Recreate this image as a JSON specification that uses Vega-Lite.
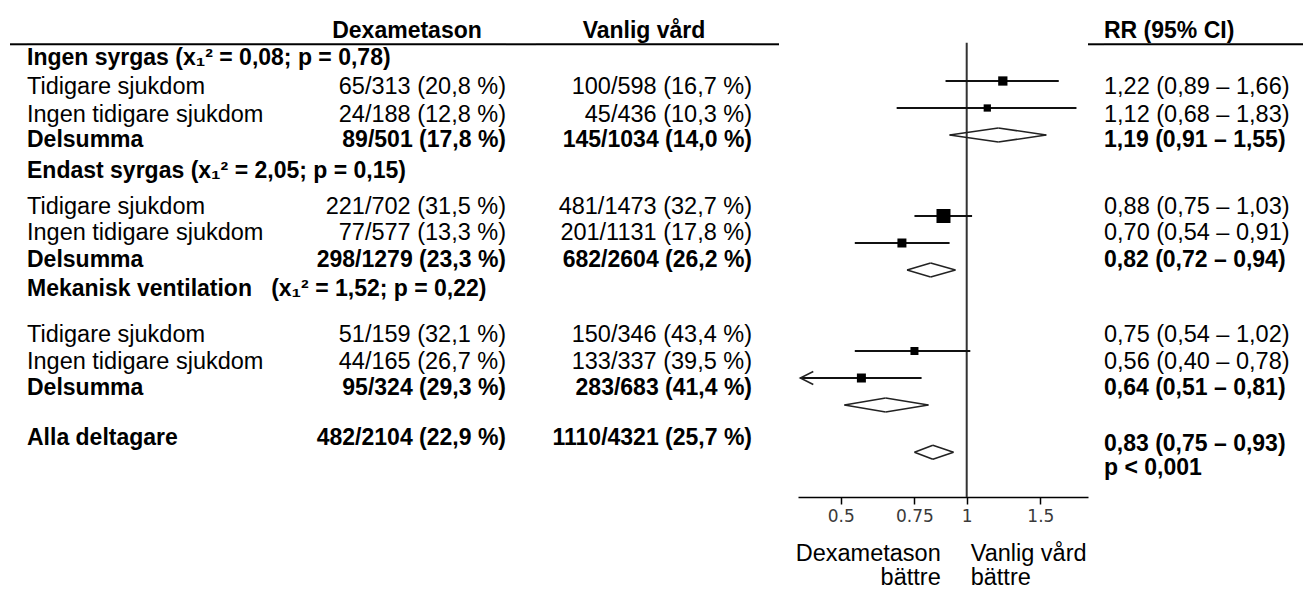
{
  "$schema": "https://vega.github.io/schema/vega-lite/v6.json",
  "background": "white",
  "padding": {"left": 9, "top": 0, "right": 0, "bottom": 0},
  "spacing": 0,
  "bounds": "flush",
  "align": "none",
  "config": {
    "view": {"stroke": null},
    "axisX": {"grid": false, "domainColor": "#000", "domainWidth": 1.5, "tickColor": "#000", "tickWidth": 1.5, "tickSize": 7,
      "labelFont": "DejaVu Sans", "labelFontSize": 17, "labelColor": "#3a3a3a", "labelPadding": 4, "labelFlush": false, "labelOverlap": false}
  },
  "datasets": {
    "table": [
      {"line": 2.16, "label": "Ingen syrgas (x₁² = 0,08; p = 0,78)", "type": "group"},
      {"line": 3.24, "label": "Tidigare sjukdom", "dex": "65/313 (20,8 %)", "van": "100/598 (16,7 %)", "type": "sub"},
      {"line": 4.26, "label": "Ingen tidigare sjukdom", "dex": "24/188 (12,8 %)", "van": "45/436 (10,3 %)", "type": "sub"},
      {"line": 5.2, "label": "Delsumma", "dex": "89/501 (17,8 %)", "van": "145/1034 (14,0 %)", "type": "subtotal"},
      {"line": 6.32, "label": "Endast syrgas (x₁² = 2,05; p = 0,15)", "type": "group"},
      {"line": 7.67, "label": "Tidigare sjukdom", "dex": "221/702 (31,5 %)", "van": "481/1473 (32,7 %)", "type": "sub"},
      {"line": 8.63, "label": "Ingen tidigare sjukdom", "dex": "77/577 (13,3 %)", "van": "201/1131 (17,8 %)", "type": "sub"},
      {"line": 9.62, "label": "Delsumma", "dex": "298/1279 (23,3 %)", "van": "682/2604 (26,2 %)", "type": "subtotal"},
      {"line": 10.7, "label": "Mekanisk ventilation\u00a0\u00a0\u00a0(x₁² = 1,52; p = 0,22)", "type": "group"},
      {"line": 12.42, "label": "Tidigare sjukdom", "dex": "51/159 (32,1 %)", "van": "150/346 (43,4 %)", "type": "sub"},
      {"line": 13.41, "label": "Ingen tidigare sjukdom", "dex": "44/165 (26,7 %)", "van": "133/337 (39,5 %)", "type": "sub"},
      {"line": 14.38, "label": "Delsumma", "dex": "95/324 (29,3 %)", "van": "283/683 (41,4 %)", "type": "subtotal"},
      {"line": 16.23, "label": "Alla deltagare", "dex": "482/2104 (22,9 %)", "van": "1110/4321 (25,7 %)", "type": "total"}
    ],
    "rr": [
      {"line": 3.24, "rr": "1,22 (0,89 – 1,66)", "type": "sub"},
      {"line": 4.26, "rr": "1,12 (0,68 – 1,83)", "type": "sub"},
      {"line": 5.2, "rr": "1,19 (0,91 – 1,55)", "type": "subtotal"},
      {"line": 7.67, "rr": "0,88 (0,75 – 1,03)", "type": "sub"},
      {"line": 8.63, "rr": "0,70 (0,54 – 0,91)", "type": "sub"},
      {"line": 9.62, "rr": "0,82 (0,72 – 0,94)", "type": "subtotal"},
      {"line": 12.42, "rr": "0,75 (0,54 – 1,02)", "type": "sub"},
      {"line": 13.41, "rr": "0,56 (0,40 – 0,78)", "type": "sub"},
      {"line": 14.38, "rr": "0,64 (0,51 – 0,81)", "type": "subtotal"},
      {"line": 16.45, "rr": "0,83 (0,75 – 0,93)", "type": "total"},
      {"line": 17.34, "rr": "p < 0,001", "type": "total"}
    ],
    "forest": [
      {"line": 3, "est": 1.22, "lo": 0.89, "hi": 1.66, "kind": "subgroup", "weight": 8.6},
      {"line": 4, "est": 1.12, "lo": 0.68, "hi": 1.83, "kind": "subgroup", "weight": 5.3},
      {"line": 5, "est": 1.19, "lo": 0.91, "hi": 1.55, "kind": "pooled"},
      {"line": 8, "est": 0.88, "lo": 0.75, "hi": 1.03, "kind": "subgroup", "weight": 19.6},
      {"line": 9, "est": 0.70, "lo": 0.54, "hi": 0.91, "kind": "subgroup", "weight": 8.1},
      {"line": 10, "est": 0.82, "lo": 0.72, "hi": 0.94, "kind": "pooled"},
      {"line": 13, "est": 0.75, "lo": 0.54, "hi": 1.02, "kind": "subgroup", "weight": 6.4},
      {"line": 14, "est": 0.56, "lo": 0.40, "hi": 0.78, "kind": "subgroup", "weight": 8.1},
      {"line": 15, "est": 0.64, "lo": 0.51, "hi": 0.81, "kind": "pooled"},
      {"line": 16.75, "est": 0.83, "lo": 0.75, "hi": 0.93, "kind": "pooled"}
    ],
    "footer": [
      {"line": 20.52, "left": "Dexametason", "right": "Vanlig vård"},
      {"line": 21.42, "left": "bättre", "right": "bättre"}
    ]
  },
  "hconcat": [
    {
      "width": 17, "height": 590,
      "data": {"values": [{}]},
      "mark": {"type": "rule", "color": "#000", "strokeWidth": 2},
      "encoding": {"y": {"datum": 1.64, "type": "quantitative", "scale": {"domain": [0, 21.85], "reverse": true, "nice": false, "zero": false}, "axis": null}}
    },
    {
      "width": 281, "height": 590,
      "layer": [
        {
          "data": {"values": [{}]},
          "mark": {"type": "rule", "color": "#000", "strokeWidth": 2},
          "encoding": {"y": {"datum": 1.64, "type": "quantitative", "scale": {"domain": [0, 21.85], "reverse": true, "nice": false, "zero": false}, "axis": null}}
        },
        {
          "data": {"name": "table"},
          "transform": [{"filter": "datum.type === 'sub'"}],
          "mark": {"type": "text", "align": "left", "baseline": "middle", "font": "Liberation Sans", "fontSize": 23.5, "color": "#000"},
          "encoding": {
            "x": {"value": 0},
            "y": {"field": "line", "type": "quantitative", "scale": {"domain": [0, 21.85], "reverse": true, "nice": false, "zero": false}, "axis": null},
            "text": {"field": "label"}
          }
        },
        {
          "data": {"name": "table"},
          "transform": [{"filter": "datum.type !== 'sub'"}],
          "mark": {"type": "text", "align": "left", "baseline": "middle", "font": "Liberation Sans", "fontSize": 23, "fontWeight": "bold", "color": "#000"},
          "encoding": {
            "x": {"value": 0},
            "y": {"field": "line", "type": "quantitative", "scale": {"domain": [0, 21.85], "reverse": true, "nice": false, "zero": false}, "axis": null},
            "text": {"field": "label"}
          }
        }
      ]
    },
    {
      "width": 198, "height": 590,
      "layer": [
        {
          "data": {"values": [{}]},
          "mark": {"type": "rule", "color": "#000", "strokeWidth": 2},
          "encoding": {"y": {"datum": 1.64, "type": "quantitative", "scale": {"domain": [0, 21.85], "reverse": true, "nice": false, "zero": false}, "axis": null}}
        },
        {
          "data": {"values": [{}]},
          "mark": {"type": "text", "align": "center", "baseline": "middle", "font": "Liberation Sans", "fontSize": 23, "fontWeight": "bold", "color": "#000"},
          "encoding": {
            "y": {"datum": 1.16, "type": "quantitative", "scale": {"domain": [0, 21.85], "reverse": true, "nice": false, "zero": false}, "axis": null},
            "text": {"value": "Dexametason"}
          }
        },
        {
          "data": {"name": "table"},
          "transform": [{"filter": "datum.type === 'sub'"}],
          "mark": {"type": "text", "align": "right", "baseline": "middle", "font": "Liberation Sans", "fontSize": 23.5, "color": "#000"},
          "encoding": {
            "x": {"value": "width"},
            "y": {"field": "line", "type": "quantitative", "scale": {"domain": [0, 21.85], "reverse": true, "nice": false, "zero": false}, "axis": null},
            "text": {"field": "dex"}
          }
        },
        {
          "data": {"name": "table"},
          "transform": [{"filter": "datum.type === 'subtotal' || datum.type === 'total'"}],
          "mark": {"type": "text", "align": "right", "baseline": "middle", "font": "Liberation Sans", "fontSize": 23, "fontWeight": "bold", "color": "#000"},
          "encoding": {
            "x": {"value": "width"},
            "y": {"field": "line", "type": "quantitative", "scale": {"domain": [0, 21.85], "reverse": true, "nice": false, "zero": false}, "axis": null},
            "text": {"field": "dex"}
          }
        }
      ]
    },
    {
      "width": 30, "height": 590,
      "data": {"values": [{}]},
      "mark": {"type": "rule", "color": "#000", "strokeWidth": 2},
      "encoding": {"y": {"datum": 1.64, "type": "quantitative", "scale": {"domain": [0, 21.85], "reverse": true, "nice": false, "zero": false}, "axis": null}}
    },
    {
      "width": 216, "height": 590,
      "layer": [
        {
          "data": {"values": [{}]},
          "mark": {"type": "rule", "color": "#000", "strokeWidth": 2},
          "encoding": {"y": {"datum": 1.64, "type": "quantitative", "scale": {"domain": [0, 21.85], "reverse": true, "nice": false, "zero": false}, "axis": null}}
        },
        {
          "data": {"values": [{}]},
          "mark": {"type": "text", "align": "center", "baseline": "middle", "font": "Liberation Sans", "fontSize": 23, "fontWeight": "bold", "color": "#000"},
          "encoding": {
            "y": {"datum": 1.16, "type": "quantitative", "scale": {"domain": [0, 21.85], "reverse": true, "nice": false, "zero": false}, "axis": null},
            "text": {"value": "Vanlig vård"}
          }
        },
        {
          "data": {"name": "table"},
          "transform": [{"filter": "datum.type === 'sub'"}],
          "mark": {"type": "text", "align": "right", "baseline": "middle", "font": "Liberation Sans", "fontSize": 23.5, "color": "#000"},
          "encoding": {
            "x": {"value": "width"},
            "y": {"field": "line", "type": "quantitative", "scale": {"domain": [0, 21.85], "reverse": true, "nice": false, "zero": false}, "axis": null},
            "text": {"field": "van"}
          }
        },
        {
          "data": {"name": "table"},
          "transform": [{"filter": "datum.type === 'subtotal' || datum.type === 'total'"}],
          "mark": {"type": "text", "align": "right", "baseline": "middle", "font": "Liberation Sans", "fontSize": 23, "fontWeight": "bold", "color": "#000"},
          "encoding": {
            "x": {"value": "width"},
            "y": {"field": "line", "type": "quantitative", "scale": {"domain": [0, 21.85], "reverse": true, "nice": false, "zero": false}, "axis": null},
            "text": {"field": "van"}
          }
        }
      ]
    },
    {
      "width": 27, "height": 590,
      "data": {"values": [{}]},
      "mark": {"type": "rule", "color": "#000", "strokeWidth": 2},
      "encoding": {"y": {"datum": 1.64, "type": "quantitative", "scale": {"domain": [0, 21.85], "reverse": true, "nice": false, "zero": false}, "axis": null}}
    },
    {
      "width": 19, "height": 590,
      "data": {"values": [{}]},
      "mark": {"type": "text"},
      "encoding": {"text": {"value": ""}}
    },
    {
      "width": 290, "height": 497,
      "layer": [
        {
          "data": {"values": [{}]},
          "mark": {"type": "rule", "color": "#333", "strokeWidth": 2},
          "encoding": {
            "x": {"datum": 1, "type": "quantitative", "scale": {"type": "log", "domain": [0.395, 1.95], "nice": false, "zero": false}, "axis": {"values": [0.5, 0.75, 1, 1.5], "format": "~g", "title": null, "labelFont": "DejaVu Sans", "labelFontSize": 17, "labelColor": "#3a3a3a", "tickSize": 7, "tickColor": "#000", "tickWidth": 1.5, "domainColor": "#000", "domainWidth": 1.5, "labelPadding": 4}},
            "y": {"datum": 1.58, "type": "quantitative", "scale": {"domain": [0, 18.407], "reverse": true, "nice": false, "zero": false}, "axis": null},
            "y2": {"datum": 18.407}
          }
        },
        {
          "data": {"name": "forest"},
          "transform": [{"filter": "datum.kind === 'subgroup'"}],
          "mark": {"type": "rule", "color": "#111", "strokeWidth": 2},
          "encoding": {
            "x": {"field": "lo", "type": "quantitative", "scale": {"type": "log", "domain": [0.395, 1.95], "nice": false, "zero": false}, "axis": {"values": [0.5, 0.75, 1, 1.5], "format": "~g", "title": null, "labelFont": "DejaVu Sans", "labelFontSize": 17, "labelColor": "#3a3a3a", "tickSize": 7, "tickColor": "#000", "tickWidth": 1.5, "domainColor": "#000", "domainWidth": 1.5, "labelPadding": 4}},
            "x2": {"field": "hi"},
            "y": {"field": "line", "type": "quantitative", "scale": {"domain": [0, 18.407], "reverse": true, "nice": false, "zero": false}, "axis": null}
          }
        },
        {
          "data": {"name": "forest"},
          "transform": [{"filter": "datum.kind === 'subgroup'"}],
          "mark": {"type": "square", "filled": true, "color": "#000", "opacity": 1},
          "encoding": {
            "x": {"field": "est", "type": "quantitative", "scale": {"type": "log", "domain": [0.395, 1.95], "nice": false, "zero": false}, "axis": {"values": [0.5, 0.75, 1, 1.5], "format": "~g", "title": null, "labelFont": "DejaVu Sans", "labelFontSize": 17, "labelColor": "#3a3a3a", "tickSize": 7, "tickColor": "#000", "tickWidth": 1.5, "domainColor": "#000", "domainWidth": 1.5, "labelPadding": 4}},
            "y": {"field": "line", "type": "quantitative", "scale": {"domain": [0, 18.407], "reverse": true, "nice": false, "zero": false}, "axis": null},
            "size": {"field": "weight", "type": "quantitative", "scale": {"domain": [0, 20], "range": [0, 200]}, "legend": null}
          }
        },
        {
          "data": {"name": "forest"},
          "transform": [{"filter": "datum.kind === 'subgroup' && datum.lo <= 0.4"}],
          "mark": {"type": "point", "shape": "M2,-1L0,0L2,1", "filled": false, "size": 169, "stroke": "#222", "strokeWidth": 1.5, "opacity": 1},
          "encoding": {
            "x": {"field": "lo", "type": "quantitative", "scale": {"type": "log", "domain": [0.395, 1.95], "nice": false, "zero": false}, "axis": {"values": [0.5, 0.75, 1, 1.5], "format": "~g", "title": null, "labelFont": "DejaVu Sans", "labelFontSize": 17, "labelColor": "#3a3a3a", "tickSize": 7, "tickColor": "#000", "tickWidth": 1.5, "domainColor": "#000", "domainWidth": 1.5, "labelPadding": 4}},
            "y": {"field": "line", "type": "quantitative", "scale": {"domain": [0, 18.407], "reverse": true, "nice": false, "zero": false}, "axis": null}
          }
        },
        {
          "data": {"name": "forest"},
          "transform": [{"filter": "datum.kind === 'pooled'"}],
          "mark": {"type": "rule", "color": "#222", "strokeWidth": 1.5, "y2Offset": -7},
          "encoding": {
            "x": {"field": "lo", "type": "quantitative", "scale": {"type": "log", "domain": [0.395, 1.95], "nice": false, "zero": false}, "axis": {"values": [0.5, 0.75, 1, 1.5], "format": "~g", "title": null, "labelFont": "DejaVu Sans", "labelFontSize": 17, "labelColor": "#3a3a3a", "tickSize": 7, "tickColor": "#000", "tickWidth": 1.5, "domainColor": "#000", "domainWidth": 1.5, "labelPadding": 4}},
            "x2": {"field": "est"},
            "y": {"field": "line", "type": "quantitative", "scale": {"domain": [0, 18.407], "reverse": true, "nice": false, "zero": false}, "axis": null},
            "y2": {"field": "line"}
          }
        },
        {
          "data": {"name": "forest"},
          "transform": [{"filter": "datum.kind === 'pooled'"}],
          "mark": {"type": "rule", "color": "#222", "strokeWidth": 1.5, "yOffset": -7},
          "encoding": {
            "x": {"field": "est", "type": "quantitative", "scale": {"type": "log", "domain": [0.395, 1.95], "nice": false, "zero": false}, "axis": {"values": [0.5, 0.75, 1, 1.5], "format": "~g", "title": null, "labelFont": "DejaVu Sans", "labelFontSize": 17, "labelColor": "#3a3a3a", "tickSize": 7, "tickColor": "#000", "tickWidth": 1.5, "domainColor": "#000", "domainWidth": 1.5, "labelPadding": 4}},
            "x2": {"field": "hi"},
            "y": {"field": "line", "type": "quantitative", "scale": {"domain": [0, 18.407], "reverse": true, "nice": false, "zero": false}, "axis": null},
            "y2": {"field": "line"}
          }
        },
        {
          "data": {"name": "forest"},
          "transform": [{"filter": "datum.kind === 'pooled'"}],
          "mark": {"type": "rule", "color": "#222", "strokeWidth": 1.5, "y2Offset": 7},
          "encoding": {
            "x": {"field": "hi", "type": "quantitative", "scale": {"type": "log", "domain": [0.395, 1.95], "nice": false, "zero": false}, "axis": {"values": [0.5, 0.75, 1, 1.5], "format": "~g", "title": null, "labelFont": "DejaVu Sans", "labelFontSize": 17, "labelColor": "#3a3a3a", "tickSize": 7, "tickColor": "#000", "tickWidth": 1.5, "domainColor": "#000", "domainWidth": 1.5, "labelPadding": 4}},
            "x2": {"field": "est"},
            "y": {"field": "line", "type": "quantitative", "scale": {"domain": [0, 18.407], "reverse": true, "nice": false, "zero": false}, "axis": null},
            "y2": {"field": "line"}
          }
        },
        {
          "data": {"name": "forest"},
          "transform": [{"filter": "datum.kind === 'pooled'"}],
          "mark": {"type": "rule", "color": "#222", "strokeWidth": 1.5, "yOffset": 7},
          "encoding": {
            "x": {"field": "est", "type": "quantitative", "scale": {"type": "log", "domain": [0.395, 1.95], "nice": false, "zero": false}, "axis": {"values": [0.5, 0.75, 1, 1.5], "format": "~g", "title": null, "labelFont": "DejaVu Sans", "labelFontSize": 17, "labelColor": "#3a3a3a", "tickSize": 7, "tickColor": "#000", "tickWidth": 1.5, "domainColor": "#000", "domainWidth": 1.5, "labelPadding": 4}},
            "x2": {"field": "lo"},
            "y": {"field": "line", "type": "quantitative", "scale": {"domain": [0, 18.407], "reverse": true, "nice": false, "zero": false}, "axis": null},
            "y2": {"field": "line"}
          }
        },
        {
          "data": {"name": "footer"},
          "mark": {"type": "text", "align": "right", "baseline": "middle", "dx": -26, "font": "Liberation Sans", "fontSize": 23.5, "color": "#000"},
          "encoding": {
            "x": {"datum": 1, "type": "quantitative", "scale": {"type": "log", "domain": [0.395, 1.95], "nice": false, "zero": false}, "axis": {"values": [0.5, 0.75, 1, 1.5], "format": "~g", "title": null, "labelFont": "DejaVu Sans", "labelFontSize": 17, "labelColor": "#3a3a3a", "tickSize": 7, "tickColor": "#000", "tickWidth": 1.5, "domainColor": "#000", "domainWidth": 1.5, "labelPadding": 4}},
            "y": {"field": "line", "type": "quantitative", "scale": {"domain": [0, 18.407], "reverse": true, "nice": false, "zero": false}, "axis": null},
            "text": {"field": "left"}
          }
        },
        {
          "data": {"name": "footer"},
          "mark": {"type": "text", "align": "left", "baseline": "middle", "dx": 4, "font": "Liberation Sans", "fontSize": 23.5, "color": "#000"},
          "encoding": {
            "x": {"datum": 1, "type": "quantitative", "scale": {"type": "log", "domain": [0.395, 1.95], "nice": false, "zero": false}, "axis": {"values": [0.5, 0.75, 1, 1.5], "format": "~g", "title": null, "labelFont": "DejaVu Sans", "labelFontSize": 17, "labelColor": "#3a3a3a", "tickSize": 7, "tickColor": "#000", "tickWidth": 1.5, "domainColor": "#000", "domainWidth": 1.5, "labelPadding": 4}},
            "y": {"field": "line", "type": "quantitative", "scale": {"domain": [0, 18.407], "reverse": true, "nice": false, "zero": false}, "axis": null},
            "text": {"field": "right"}
          }
        }
      ]
    },
    {
      "width": 16, "height": 590,
      "data": {"values": [{}]},
      "mark": {"type": "rule", "color": "#000", "strokeWidth": 2},
      "encoding": {"y": {"datum": 1.64, "type": "quantitative", "scale": {"domain": [0, 21.85], "reverse": true, "nice": false, "zero": false}, "axis": null}}
    },
    {
      "width": 200, "height": 590,
      "layer": [
        {
          "data": {"values": [{}]},
          "mark": {"type": "rule", "color": "#000", "strokeWidth": 2},
          "encoding": {"y": {"datum": 1.64, "type": "quantitative", "scale": {"domain": [0, 21.85], "reverse": true, "nice": false, "zero": false}, "axis": null}}
        },
        {
          "data": {"values": [{}]},
          "mark": {"type": "text", "align": "left", "baseline": "middle", "font": "Liberation Sans", "fontSize": 23, "fontWeight": "bold", "color": "#000"},
          "encoding": {
            "x": {"value": 0},
            "y": {"datum": 1.16, "type": "quantitative", "scale": {"domain": [0, 21.85], "reverse": true, "nice": false, "zero": false}, "axis": null},
            "text": {"value": "RR (95% CI)"}
          }
        },
        {
          "data": {"name": "rr"},
          "transform": [{"filter": "datum.type === 'sub'"}],
          "mark": {"type": "text", "align": "left", "baseline": "middle", "font": "Liberation Sans", "fontSize": 23.5, "color": "#000"},
          "encoding": {
            "x": {"value": 0},
            "y": {"field": "line", "type": "quantitative", "scale": {"domain": [0, 21.85], "reverse": true, "nice": false, "zero": false}, "axis": null},
            "text": {"field": "rr"}
          }
        },
        {
          "data": {"name": "rr"},
          "transform": [{"filter": "datum.type !== 'sub'"}],
          "mark": {"type": "text", "align": "left", "baseline": "middle", "font": "Liberation Sans", "fontSize": 23, "fontWeight": "bold", "color": "#000"},
          "encoding": {
            "x": {"value": 0},
            "y": {"field": "line", "type": "quantitative", "scale": {"domain": [0, 21.85], "reverse": true, "nice": false, "zero": false}, "axis": null},
            "text": {"field": "rr"}
          }
        }
      ]
    }
  ]
}
